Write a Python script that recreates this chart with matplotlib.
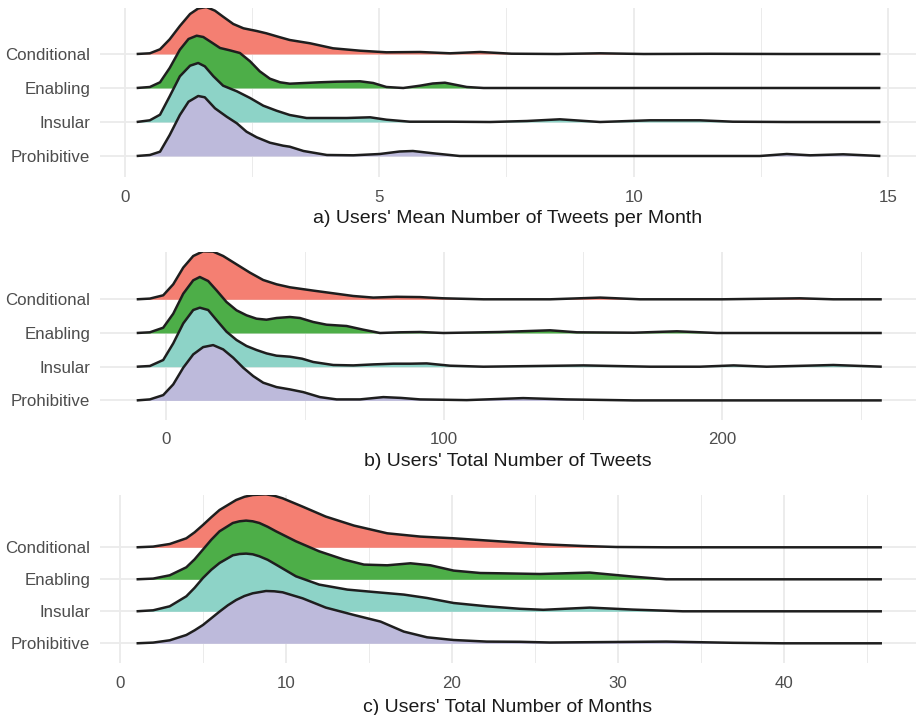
import matplotlib
matplotlib.use("Agg")
import matplotlib.pyplot as plt
import numpy as np

plt.rcParams['font.family'] = ['Liberation Sans', 'DejaVu Sans']

# ---------------- data ----------------
categories = ["Conditional", "Enabling", "Insular", "Prohibitive"]
colors = ["#F47F72", "#4DAE48", "#8DD3C7", "#BDBADB"]

# Panel a: mean tweets per month (x) vs. relative density height
a_x_conditional = [0.23, 0.49, 0.69, 0.88, 1.08, 1.28, 1.44, 1.60, 1.77, 1.93, 2.13, 2.33, 2.59, 2.78, 3.05, 3.24, 3.64, 4.09, 4.62, 5.14, 5.80, 6.39, 6.98, 7.6, 8.5, 9.34, 10.2, 11.5, 13.0, 14.85]
a_h_conditional = [0, 0.7, 4.7, 14.7, 28, 40, 45.5, 47, 43.3, 37.3, 30, 25.7, 23, 20.7, 16.7, 14, 10.7, 5.7, 3.3, 1.7, 2, 0.7, 2, 0.3, 0, 0.7, 0, 0.2, 0, 0]
a_x_enabling = [0.23, 0.49, 0.69, 0.88, 1.08, 1.25, 1.41, 1.54, 1.70, 1.87, 2.06, 2.26, 2.46, 2.65, 2.85, 3.05, 3.24, 3.83, 4.16, 4.62, 4.88, 5.14, 5.47, 5.80, 6.05, 6.29, 6.72, 7.05, 8.0, 10.0, 12.0, 14.85]
a_h_enabling = [0, 1, 5.7, 20, 38.3, 49, 52.3, 51, 45.7, 40, 37.7, 35, 26.7, 16.7, 9.3, 5.7, 4.3, 5.7, 6.3, 6.7, 5, 1, 0, 2.3, 4.5, 5.3, 1, 0, 0, 0, 0, 0]
a_x_insular = [0.23, 0.49, 0.69, 0.88, 1.08, 1.28, 1.44, 1.57, 1.74, 1.93, 2.20, 2.46, 2.72, 2.98, 3.24, 3.57, 3.97, 4.36, 4.82, 5.14, 5.60, 6.39, 7.18, 7.9, 8.55, 9.34, 10.32, 11.30, 11.95, 13.0, 14.85]
a_h_insular = [0, 1.7, 7.3, 25.7, 45.7, 56.3, 59, 55.7, 45.7, 36.3, 30.7, 24, 16.3, 11.3, 7, 4, 4, 4, 4.7, 2.3, 0.3, 0.3, 0, 1, 2.7, 0, 1.7, 1.7, 0.3, 0, 0]
a_x_prohibitive = [0.23, 0.49, 0.69, 0.88, 1.08, 1.25, 1.44, 1.57, 1.77, 2.00, 2.20, 2.39, 2.59, 2.85, 3.11, 3.24, 3.51, 3.97, 4.49, 5.01, 5.40, 5.66, 6.06, 6.58, 8.0, 10.0, 12.48, 13.01, 13.47, 14.12, 14.85]
a_h_prohibitive = [0, 1, 4.3, 21, 41, 54.3, 60, 58.7, 47.7, 39.3, 32.7, 24.3, 18.7, 13.3, 10.3, 9.3, 5, 1, 0.7, 2, 4.5, 5, 2.7, 0, 0, 0, 0, 2, 0.7, 1.7, 0]

# Panel b: total number of tweets
b_x_conditional = [-10.5, -5.76, -0.96, 2.64, 6.24, 9.83, 13.4, 17.0, 20.6, 25.4, 30.2, 35.0, 39.8, 44.6, 53.0, 60.2, 67.4, 74.6, 83.0, 91.4, 99.8, 114.2, 138.2, 156.2, 170.5, 200, 228, 240, 257.5]
b_h_conditional = [0, 0.7, 4, 15, 31.7, 43.3, 48, 47.7, 43.3, 35, 26.7, 19.3, 15, 12, 8.7, 6, 3.3, 1.7, 2.5, 2.2, 1, 0, 0, 1.7, 0, 0, 1, 0, 0]
b_x_enabling = [-10.5, -5.76, -0.96, 2.64, 6.24, 9.83, 12.2, 15.2, 18.2, 21.8, 25.4, 29.0, 32.6, 36.2, 39.8, 44.6, 48.2, 53.0, 57.8, 65.0, 71.0, 77.0, 84.2, 91.4, 99.8, 120.1, 138.2, 147.8, 168.2, 183.8, 198.2, 257.5]
b_h_enabling = [0, 0.7, 5.3, 19.3, 39.3, 52.7, 56, 52, 42.7, 31, 22.7, 17.7, 14.3, 13.3, 15, 16, 15, 11, 8.3, 7, 3.3, 0, 0.7, 1, 0, 1, 2.7, 0.7, 0.3, 1.7, 0, 0]
b_x_insular = [-10.5, -5.76, -0.96, 2.64, 6.24, 9.83, 12.2, 15.2, 18.2, 21.8, 25.4, 29.0, 32.6, 36.2, 39.8, 44.6, 49.0, 53.0, 60.2, 67.4, 74.6, 81.8, 88, 93.8, 102.2, 114.2, 150.2, 174.2, 192.2, 204.2, 216.1, 240.1, 257.5]
b_h_insular = [0, 0.7, 6.7, 23.3, 43.3, 56.7, 59, 56.7, 46.7, 35, 26.7, 20.7, 16.7, 13.3, 11, 10, 8, 4.7, 1.7, 1.3, 2.3, 3, 3, 3.3, 1, 0, 1.3, 0, 0, 1.3, 0, 1.7, 0]
b_x_prohibitive = [-10.5, -5.76, -0.96, 2.64, 6.24, 9.83, 13.4, 17.0, 20.6, 24.2, 27.8, 31.4, 35.0, 39.8, 44.6, 49.4, 55.4, 61.4, 69.8, 78.2, 84.5, 91.4, 108.2, 128.5, 144.1, 168.2, 257.5]
b_h_prohibitive = [0, 1, 5.3, 16, 32.7, 46, 53.3, 55.3, 51, 42.7, 32.7, 24.3, 17.7, 13.3, 11, 8.3, 3.3, 1, 1, 3.3, 2.5, 1, 0.3, 2.3, 1, 0, 0]

# Panel c: total number of months
c_x_conditional = [1.0, 2.0, 3.0, 4.0, 4.5, 5.0, 5.5, 6.0, 7.0, 7.5, 8.0, 8.8, 9.3, 9.8, 11.0, 12.4, 14.1, 16.1, 18.1, 20.1, 22.1, 24.1, 25.5, 27.9, 29.9, 32.9, 36, 39, 42, 45.9]
c_h_conditional = [0, 0.7, 3.3, 9, 15, 22.3, 30, 37.3, 47.3, 50.5, 52.3, 53, 51.5, 49, 40.7, 30.7, 21.7, 14, 10.7, 9, 6.8, 4.6, 3, 1.3, 0.3, 0, 0, 0, 0, 0]
c_x_enabling = [1.0, 2.0, 3.0, 4.0, 4.5, 5.0, 5.5, 6.0, 6.8, 7.2, 7.6, 8.0, 8.4, 8.9, 9.4, 10.6, 12.0, 13.5, 14.7, 16.1, 17.5, 18.7, 20.1, 21.7, 22.9, 25.3, 28.3, 30.9, 32.9, 36, 40, 45.9]
c_h_enabling = [0, 0.7, 4, 12, 20, 29.7, 39.5, 48, 56.3, 58, 58.7, 58, 56.3, 52.5, 48, 38, 28, 19.7, 14.7, 14, 16, 14, 8.7, 6.3, 6, 5.3, 6.7, 2.7, 0, 0, 0, 0]
c_x_insular = [1.0, 2.0, 3.0, 4.0, 4.5, 5.0, 5.5, 6.0, 6.8, 7.2, 7.6, 8.0, 8.4, 8.9, 9.4, 10.6, 12.0, 13.7, 15.3, 17.1, 18.5, 20.1, 22.1, 24.1, 25.5, 28.3, 30.9, 33.9, 38, 45.9]
c_h_insular = [0, 1, 5, 15, 23.5, 33.3, 41.5, 48.3, 56, 57.3, 57.7, 57, 55, 51.5, 46.7, 35, 26.7, 21.7, 19.3, 16.7, 13.3, 8.3, 5, 2.5, 1.5, 3.7, 1.7, 0, 0, 0]
c_x_prohibitive = [1.0, 2.0, 3.0, 4.0, 4.5, 5.0, 5.5, 6.0, 6.5, 7.0, 7.5, 8.0, 8.8, 9.3, 9.8, 11.0, 12.4, 14.1, 15.7, 17.1, 18.5, 20.1, 22.1, 24.1, 25.9, 29, 32.9, 36.9, 39.9, 45.9]
c_h_prohibitive = [0, 0.7, 3, 8.3, 13, 18.3, 25, 31.7, 38, 43.3, 47.3, 50, 52.3, 52, 51, 45, 35.7, 28.3, 21.7, 11.7, 6, 3.3, 1.7, 1.5, 0.8, 1.2, 1.7, 0.5, 0, 0]

a_ticks = [0, 5, 10, 15]
b_ticks = [0, 100, 200]
c_ticks = [0, 10, 20, 30, 40]
titles = ["a) Users' Mean Number of Tweets per Month",
          "b) Users' Total Number of Tweets",
          "c) Users' Total Number of Months"]

# ---------------- layout ----------------
W, H = 916, 715
fig = plt.figure(figsize=(W / 100, H / 100), dpi=100)
fig.patch.set_facecolor("white")

panels = [
    dict(top=8, bottom=177, base_top=54, sp=34, xlim=(-0.49, 15.55), ticks=a_ticks,
         minor=[2.5, 7.5, 12.5], title_y=218,
         curves=[(a_x_conditional, a_h_conditional), (a_x_enabling, a_h_enabling),
                 (a_x_insular, a_h_insular), (a_x_prohibitive, a_h_prohibitive)]),
    dict(top=252, bottom=420, base_top=299.3, sp=33.7, xlim=(-23.7, 269.8), ticks=b_ticks,
         minor=[50, 150, 250], title_y=461,
         curves=[(b_x_conditional, b_h_conditional), (b_x_enabling, b_h_enabling),
                 (b_x_insular, b_h_insular), (b_x_prohibitive, b_h_prohibitive)]),
    dict(top=495, bottom=663, base_top=547.3, sp=32, xlim=(-1.2, 47.95), ticks=c_ticks,
         minor=[5, 15, 25, 35, 45], title_y=708,
         curves=[(c_x_conditional, c_h_conditional), (c_x_enabling, c_h_enabling),
                 (c_x_insular, c_h_insular), (c_x_prohibitive, c_h_prohibitive)]),
]

left_px, right_px = 100, 916
grid_col = "#EBEBEB"

for i, p in enumerate(panels):
    ax = fig.add_axes([left_px / W, 1 - p["bottom"] / H,
                       (right_px - left_px) / W, (p["bottom"] - p["top"]) / H])
    sp = p["sp"]
    base_bot = p["base_top"] + 3 * sp
    ylo = 1 - (p["bottom"] - base_bot) / sp
    yhi = 4 + (p["base_top"] - p["top"]) / sp
    ax.set_xlim(*p["xlim"])
    ax.set_ylim(ylo, yhi)

    # grid
    for t in p["ticks"]:
        ax.axvline(t, color=grid_col, lw=1.3, zorder=0)
    for t in p["minor"]:
        ax.axvline(t, color=grid_col, lw=0.7, zorder=0)
    for r in range(1, 5):
        ax.axhline(r, color=grid_col, lw=1.3, zorder=0)

    # ridges, top row first
    for j, (xs, hs) in enumerate(p["curves"]):
        row = 4 - j
        xs = np.asarray(xs, float)
        ys = row + np.asarray(hs, float) / sp
        z = 2 + j
        ax.fill_between(xs, row, ys, color=colors[j], lw=0, zorder=z)
        ax.plot(xs, ys, color="#1E1E1E", lw=1.8, zorder=z + 0.5,
                solid_joinstyle="round", solid_capstyle="butt")

    ax.set_yticks([4, 3, 2, 1])
    ax.set_yticklabels(categories)
    ax.set_xticks(p["ticks"])
    ax.set_xticklabels([str(t) for t in p["ticks"]])
    ax.tick_params(axis="both", length=0, labelsize=12.2, colors="#4D4D4D")
    ax.tick_params(axis="x", pad=9)
    ax.tick_params(axis="y", pad=7)
    for s in ax.spines.values():
        s.set_visible(False)
    ax.set_facecolor("none")

    fig.text((left_px + right_px) / 2 / W, 1 - p["title_y"] / H, titles[i],
             ha="center", va="center", fontsize=14, color="#1A1A1A")

fig.savefig("out.png", dpi=100, facecolor="white")
